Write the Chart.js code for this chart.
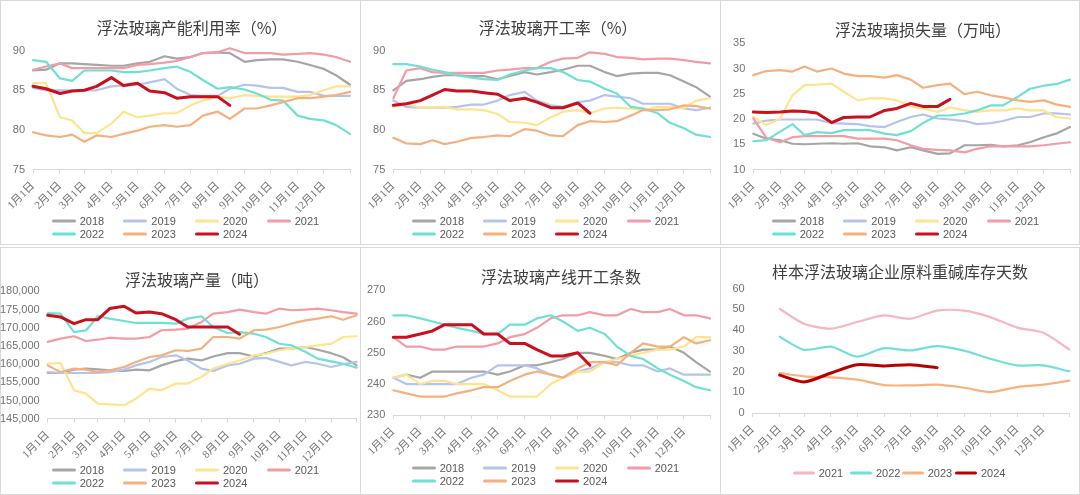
<!DOCTYPE html>
<html>
<head>
<meta charset="utf-8">
<script src="https://cdn.jsdelivr.net/npm/chart.js@4.4.1/dist/chart.umd.min.js"></script>
<style>
html, body { margin: 0; padding: 0; background: #fff; }
body { width: 1080px; height: 495px; position: relative; overflow: hidden; font-family: "Liberation Sans", "Noto Sans CJK SC", sans-serif; }
.panel { position: absolute; background: #fff; }
.frame { position: absolute; left: 0; top: 0; right: 0; bottom: 0; border: 1px solid #d9d9d9; }
.panel canvas { position: absolute; left: 0; top: 0; }
.title { position: absolute; transform: translate(-50%, -50%); white-space: nowrap; font: 16px "Noto Sans CJK SC", sans-serif; color: #404040; }
.lg { position: absolute; transform: translateY(-50%); white-space: nowrap; font-size: 11px; line-height: 13px; color: #595959; display: flex; align-items: center; }
.lg i { display: inline-block; height: 3px; margin-right: 4px; border-radius: 1.5px; }
</style>
</head>
<body>
<script>
// x axis: day of year, ticks on the 1st of each month
const monthTicks = [1, 32, 60, 91, 121, 152, 182, 213, 244, 274, 305, 335, 365];
const monthLabels = ['1月1日', '2月1日', '3月1日', '4月1日', '5月1日', '6月1日', '7月1日', '8月1日', '9月1日', '10月1日', '11月1日', '12月1日', ''];
const halfMonthDays = [1, 16, 32, 46, 60, 74, 91, 105, 121, 135, 152, 166, 182, 196, 213, 227, 244, 258, 274, 288, 305, 319, 335, 349, 365];
const years = ['2018', '2019', '2020', '2021', '2022', '2023', '2024'];

// 浮法玻璃产能利用率（%）
const cu2018 = [87.5, 87.6, 88.4, 88.4, 88.3, 88.2, 88.1, 88.1, 88.4, 88.6, 89.3, 89.0, 89.2, 89.7, 89.8, 89.7, 88.6, 88.8, 88.9, 88.9, 88.6, 88.2, 87.7, 86.9, 85.7];
const cu2019 = [85.3, 85.0, 85.0, 85.0, 85.0, 85.0, 85.5, 85.6, 85.7, 86.0, 86.4, 85.2, 84.4, 84.3, 84.3, 85.2, 85.7, 85.6, 85.3, 85.3, 84.8, 84.8, 84.3, 84.3, 84.3];
const cu2020 = [85.9, 85.9, 81.6, 81.2, 79.6, 79.6, 80.8, 82.3, 81.6, 81.8, 82.1, 82.1, 83.1, 83.7, 84.2, 84.0, 84.4, 84.3, 84.2, 84.2, 84.2, 84.4, 85.0, 85.5, 85.5];
const cu2021 = [87.6, 88.0, 88.4, 87.8, 87.8, 87.8, 87.8, 87.8, 88.2, 88.3, 88.5, 88.7, 89.2, 89.7, 89.8, 90.3, 89.7, 89.7, 89.7, 89.5, 89.6, 89.7, 89.5, 89.2, 88.6];
const cu2022 = [88.8, 88.6, 86.5, 86.2, 87.5, 87.5, 87.5, 87.3, 87.3, 87.5, 87.8, 88.0, 87.3, 86.3, 85.2, 85.4, 85.1, 84.6, 83.8, 83.7, 81.8, 81.4, 81.2, 80.6, 79.5];
const cu2023 = [79.7, 79.3, 79.1, 79.4, 78.5, 79.3, 79.1, 79.5, 79.9, 80.4, 80.6, 80.4, 80.6, 81.8, 82.3, 81.4, 82.7, 82.7, 83.1, 83.5, 84.0, 84.0, 84.2, 84.4, 84.8];
const cu2024 = [85.5, 85.2, 84.6, 84.9, 85.0, 85.5, 86.6, 85.6, 85.9, 84.9, 84.7, 84.0, 84.2, 84.2, 84.2, 83.1];

// 浮法玻璃开工率（%）
const or2018 = [85.0, 86.2, 86.4, 86.7, 86.9, 86.9, 86.8, 86.8, 86.4, 86.8, 87.3, 87.0, 87.3, 87.6, 88.1, 88.1, 87.3, 86.8, 87.1, 87.2, 87.2, 86.9, 86.1, 85.4, 84.2];
const or2019 = [83.7, 82.9, 82.8, 82.8, 82.8, 82.9, 83.2, 83.2, 83.7, 84.4, 84.8, 83.7, 83.1, 82.9, 83.5, 83.7, 84.4, 84.2, 84.0, 83.3, 83.3, 83.3, 82.7, 82.5, 82.8];
const or2020 = [82.9, 83.3, 82.8, 82.8, 82.9, 82.6, 82.6, 82.5, 82.0, 81.0, 80.9, 80.6, 81.6, 82.3, 82.5, 82.1, 82.7, 82.8, 82.7, 82.5, 82.9, 82.9, 82.7, 83.7, 84.0];
const or2021 = [84.0, 87.5, 87.8, 87.3, 87.2, 87.2, 87.2, 87.2, 87.5, 87.6, 87.8, 87.8, 88.6, 89.0, 89.1, 89.8, 89.6, 89.2, 89.1, 88.9, 89.0, 89.0, 88.8, 88.6, 88.4];
const or2022 = [88.3, 88.3, 88.0, 87.6, 87.3, 86.9, 86.6, 86.4, 86.3, 87.0, 87.5, 87.8, 87.8, 87.3, 86.3, 86.1, 85.2, 84.6, 82.9, 82.7, 82.1, 80.9, 80.2, 79.4, 79.1];
const or2023 = [79.0, 78.3, 78.2, 78.7, 78.2, 78.5, 79.0, 79.1, 79.3, 79.2, 80.1, 79.9, 79.3, 79.2, 80.6, 81.1, 81.0, 81.1, 81.8, 82.5, 82.5, 82.6, 83.1, 83.0, 82.7];
const or2024 = [83.1, 83.3, 83.7, 84.4, 85.1, 84.9, 84.9, 84.7, 84.5, 83.7, 84.0, 83.5, 82.8, 82.8, 83.4, 82.1];

// 浮法玻璃损失量（万吨）
const ls2018 = [17.1, 16.1, 15.8, 15.1, 15.0, 15.1, 15.2, 15.1, 15.2, 14.6, 14.4, 13.8, 14.4, 13.8, 13.1, 13.2, 14.8, 14.8, 14.9, 14.6, 14.8, 15.4, 16.4, 17.1, 18.4];
const ls2019 = [19.1, 19.7, 19.9, 19.9, 19.9, 19.9, 19.2, 19.1, 19.0, 18.6, 18.4, 19.4, 20.4, 20.9, 20.1, 19.9, 19.6, 19.0, 19.2, 19.6, 20.4, 20.4, 21.1, 21.1, 20.9];
const ls2020 = [20.4, 18.8, 20.1, 24.7, 26.7, 26.8, 27.0, 25.4, 23.7, 24.1, 24.1, 23.7, 22.5, 22.1, 21.4, 22.3, 21.7, 21.4, 21.7, 21.7, 22.1, 21.7, 21.7, 20.4, 20.1];
const ls2021 = [20.1, 16.3, 15.4, 16.4, 16.6, 16.6, 16.6, 16.6, 16.1, 16.1, 16.1, 15.8, 14.8, 14.1, 13.9, 13.8, 13.4, 14.1, 14.6, 14.6, 14.6, 14.6, 14.8, 15.1, 15.4];
const ls2022 = [15.6, 15.8, 17.5, 19.0, 16.8, 17.4, 17.2, 17.8, 17.8, 17.8, 17.1, 16.8, 17.6, 19.2, 20.7, 20.7, 21.1, 21.7, 22.7, 22.7, 24.4, 26.0, 26.6, 26.9, 27.8];
const ls2023 = [28.7, 29.5, 29.7, 29.4, 30.4, 29.4, 30.0, 29.0, 28.5, 28.5, 28.2, 28.7, 27.8, 26.2, 26.7, 27.0, 24.9, 25.4, 24.7, 24.3, 23.7, 23.4, 23.7, 22.9, 22.4];
const ls2024 = [21.4, 21.3, 21.4, 21.6, 21.5, 21.2, 19.3, 20.3, 20.4, 20.4, 21.7, 22.1, 23.1, 22.5, 22.5, 23.9];

// 浮法玻璃产量（吨）
const pr2018 = [157550, 157550, 158500, 158750, 158550, 158300, 158100, 158500, 158300, 159650, 160850, 161500, 161000, 162100, 163000, 163000, 162100, 163000, 164250, 164250, 164700, 163950, 163000, 161900, 159650];
const pr2019 = [157800, 157550, 157550, 157550, 157550, 157800, 158500, 159650, 160600, 161950, 162400, 161000, 158750, 158100, 159650, 160100, 161500, 161700, 160600, 159650, 160600, 160100, 159200, 159950, 160600];
const pr2020 = [160100, 160300, 152800, 151900, 149150, 148950, 148700, 150500, 153250, 152800, 154650, 154650, 156450, 158750, 160100, 161000, 162400, 162850, 163800, 164250, 164700, 165150, 165600, 167450, 167650];
const pr2021 = [166100, 167000, 167650, 166350, 166700, 167250, 167000, 167000, 167450, 169300, 169450, 169750, 171550, 173850, 174300, 174950, 174300, 173850, 175250, 174800, 174950, 175250, 174800, 174300, 173850];
const pr2022 = [174000, 173850, 168800, 169250, 173150, 172500, 171850, 171300, 171300, 171300, 171100, 172500, 173150, 170200, 168550, 168800, 168350, 167450, 165600, 165150, 163300, 161500, 160750, 160100, 159000];
const pr2023 = [159650, 157800, 158750, 158500, 157800, 158300, 159200, 160600, 161950, 162400, 163800, 163600, 164250, 167450, 167450, 167000, 169300, 169450, 170200, 171100, 172000, 172500, 173150, 172200, 173400];
const pr2024 = [173400, 172950, 171100, 172200, 172200, 175250, 175900, 174050, 174300, 173850, 172200, 170200, 170200, 170200, 170200, 168200];

// 浮法玻璃产线开工条数
const ln2018 = [242, 243, 242, 244, 244, 244, 244, 244, 243, 244, 246, 246, 247, 248, 250, 250, 249, 248, 250, 251, 251, 252, 250, 247, 244];
const ln2019 = [242, 240, 240, 240, 240, 240, 242, 243, 246, 246, 246, 245, 243, 242, 244, 245, 247, 247, 246, 246, 244, 245, 243, 243, 243];
const ln2020 = [242, 243, 240, 241, 241, 240, 240, 240, 238, 236, 236, 236, 240, 242, 244, 244, 247, 248, 249, 250, 251, 251, 252, 255, 255];
const ln2021 = [255, 252, 252, 251, 251, 252, 252, 252, 253, 255, 256, 258, 261, 262, 262, 263, 262, 262, 264, 263, 263, 264, 262, 262, 261];
const ln2022 = [262, 262, 261, 260, 259, 258, 257, 256, 256, 259, 259, 261, 262, 260, 257, 258, 256, 252, 249, 248, 245, 243, 241, 239, 238];
const ln2023 = [238, 237, 236, 236, 236, 237, 238, 239, 239, 241, 243, 244, 243, 242, 245, 247, 247, 246, 250, 253, 252, 252, 255, 253, 254];
const ln2024 = [255, 255, 256, 257, 259, 259, 259, 256, 256, 253, 253, 251, 249, 249, 250, 246];

// 样本浮法玻璃企业原料重碱库存天数 (monthly)
const sodaDays = [32, 60, 91, 121, 152, 182, 213, 244, 274, 305, 335, 365];
const sodaYears = ['2021', '2022', '2023', '2024'];
const sa2021 = [50.3, 43.1, 40.7, 43.9, 47.1, 45.5, 49.4, 49.4, 46.3, 41.2, 38.7, 30.7];
const sa2022 = [36.8, 30.5, 32.0, 27.2, 31.3, 30.2, 32.3, 30.1, 26.2, 23.0, 23.0, 20.1];
const sa2023 = [19.3, 17.7, 17.2, 16.1, 13.5, 13.3, 13.7, 12.2, 10.1, 12.5, 13.7, 15.6];
const sa2024 = [18.3, 15.0, 19.3, 23.3, 22.7, 23.3, 21.9];

const yearColors = ['#a6a6a6', '#b4c4ec', '#ffe48f', '#f29ca5', '#6fe0d2', '#f5b080', '#c8101e'];
const sodaColors = ['#f6b6c2', '#72e0d6', '#f7b27e', '#b80000'];
const tickColor = '#737373';
const axisColor = '#d9d9d9';

const panels = [
    { left: 0, top: 0, w: 361, h: 245, area: [33, 50.7, 350, 169.5], y: [75, 90, 5],
      title: '浮法玻璃产能利用率（%）', tx: 192, ty: 27, days: halfMonthDays, names: years, colors: yearColors,
      series: [cu2018, cu2019, cu2020, cu2021, cu2022, cu2023, cu2024], rows: [220.5, 234], cols: [51.7, 123.3, 195, 266.7], lw: 24 },
    { left: 360, top: 0, w: 361, h: 245, area: [33.3, 50.7, 350, 169.5], y: [75, 90, 5],
      title: '浮法玻璃开工率（%）', tx: 198, ty: 27, days: halfMonthDays, names: years, colors: yearColors,
      series: [or2018, or2019, or2020, or2021, or2022, or2023, or2024], rows: [220.5, 234], cols: [51.7, 123.3, 195, 266.7], lw: 24 },
    { left: 720, top: 0, w: 360, h: 245, area: [33.3, 43.3, 350, 169.5], y: [10, 35, 5],
      title: '浮法玻璃损失量（万吨）', tx: 203, ty: 29, days: halfMonthDays, names: years, colors: yearColors,
      series: [ls2018, ls2019, ls2020, ls2021, ls2022, ls2023, ls2024], rows: [220.5, 234], cols: [51.7, 123.3, 195, 266.7], lw: 24 },
    { left: 0, top: 247, w: 361, h: 248, area: [47.7, 44.3, 356.7, 171.7], y: [145000, 180000, 5000],
      title: '浮法玻璃产量（吨）', tx: 197, ty: 31.5, days: halfMonthDays, names: years, colors: yearColors,
      series: [pr2018, pr2019, pr2020, pr2021, pr2022, pr2023, pr2024], rows: [223.3, 236], cols: [51.7, 123.3, 195, 266.7], lw: 24 },
    { left: 360, top: 247, w: 361, h: 248, area: [33.3, 43.3, 350, 168.3], y: [230, 270, 5],
      title: '浮法玻璃产线开工条数', tx: 201, ty: 29, days: halfMonthDays, names: years, colors: yearColors,
      series: [ln2018, ln2019, ln2020, ln2021, ln2022, ln2023, ln2024], rows: [220.7, 234], cols: [51.7, 123.3, 195, 266.7], lw: 24 },
    { left: 720, top: 247, w: 360, h: 248, area: [32.7, 41.7, 349.3, 166], y: [0, 60, 10],
      title: '样本浮法玻璃企业原料重碱库存天数', tx: 180, ty: 23.5, days: sodaDays, names: sodaYears, colors: sodaColors,
      series: [sa2021, sa2022, sa2023, sa2024], rows: [226], cols: [72.7, 130, 181.7, 235], lw: 22, tension: 0.25 }
];

function buildPanel(p) {
    const div = document.createElement('div');
    div.className = 'panel';
    div.style.cssText = `left:${p.left}px;top:${p.top}px;width:${p.w}px;height:${p.h}px`;
    div.innerHTML = `<div class="frame"></div><canvas width="${p.w}" height="${p.h}"></canvas>
        <div class="title" style="left:${p.tx}px;top:${p.ty}px">${p.title}</div>`;
    document.body.appendChild(div);

    // legend, laid out in fixed columns like the original
    p.names.forEach((name, i) => {
        const r = Math.floor(i / p.cols.length), c = i % p.cols.length;
        const el = document.createElement('div');
        el.className = 'lg';
        el.style.left = p.cols[c] + 'px';
        el.style.top = p.rows[r] + 'px';
        el.innerHTML = `<i style="width:${p.lw}px;background:${p.colors[i]}"></i>${name}`;
        div.appendChild(el);
    });

    const last = p.series.length - 1;
    const datasets = p.series.map((vals, i) => ({
        label: p.names[i],
        data: vals.map((v, k) => ({ x: p.days[k], y: v })),
        borderColor: p.colors[i],
        backgroundColor: p.colors[i],
        borderWidth: i === last ? 3 : 2.2,
        pointRadius: 0,
        tension: p.tension || 0,
        clip: false,
        order: p.series.length - i
    }));

    const [aL, aT, aR, aB] = p.area;
    new Chart(div.querySelector('canvas'), {
        type: 'line',
        data: { datasets },
        options: {
            responsive: false,
            animation: false,
            events: [],
            layout: { padding: { left: 0, top: aT, right: p.w - aR, bottom: 0 } },
            plugins: { legend: { display: false }, title: { display: false }, tooltip: { enabled: false } },
            elements: { line: { borderCapStyle: 'round', borderJoinStyle: 'round' } },
            scales: {
                x: {
                    type: 'linear', min: 1, max: 365,
                    afterBuildTicks: s => { s.ticks = monthTicks.map(v => ({ value: v })); },
                    afterFit: s => { s.height = p.h - aB; s.paddingLeft = 0; s.paddingRight = 0; },
                    ticks: {
                        autoSkip: false, minRotation: 45, maxRotation: 45, padding: 6,
                        color: tickColor, font: { family: '"Liberation Serif", "Noto Sans CJK SC"', size: 11 },
                        callback: (v, i) => monthLabels[i]
                    },
                    grid: { display: true, drawOnChartArea: false, drawTicks: true, tickLength: 4, color: axisColor },
                    border: { display: true, color: axisColor, width: 1 }
                },
                y: {
                    min: p.y[0], max: p.y[1],
                    afterFit: s => { s.width = aL; s.paddingTop = 0; s.paddingBottom = 0; },
                    ticks: { stepSize: p.y[2], padding: 8, color: tickColor, font: { family: '"Liberation Sans", "Noto Sans CJK SC"', size: 11 } },
                    grid: { display: false, drawTicks: false, tickLength: 0 },
                    border: { display: false }
                }
            }
        }
    });
}

panels.forEach(buildPanel);
</script>
</body>
</html>
